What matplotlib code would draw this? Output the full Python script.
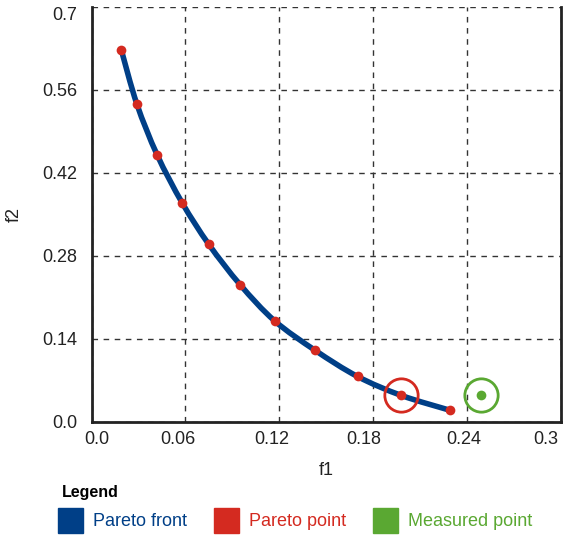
import matplotlib
matplotlib.use("Agg")
import matplotlib.pyplot as plt
import matplotlib.transforms as mtransforms
import numpy as np
from matplotlib.path import Path
from matplotlib.patches import PathPatch, Rectangle

plt.rcParams['font.family'] = ['Liberation Sans', 'DejaVu Sans']

# Data
f1 = [0.019, 0.029, 0.042, 0.058, 0.075, 0.095, 0.117, 0.143, 0.170, 0.198, 0.229]
f2 = [0.628, 0.536, 0.450, 0.369, 0.299, 0.231, 0.170, 0.120, 0.076, 0.044, 0.019]
highlight_index = 9
measured = (0.249, 0.045)
xticks = [0.0, 0.06, 0.12, 0.18, 0.24, 0.3]
xticklabels = ["0.0", "0.06", "0.12", "0.18", "0.24", "0.3"]
yticks = [0.0, 0.14, 0.28, 0.42, 0.56, 0.7]
yticklabels = ["0.0", "0.14", "0.28", "0.42", "0.56", "0.7"]
legend_labels = ["Pareto front", "Pareto point", "Measured point"]

BLUE = "#003f87"
RED = "#d42a20"
GREEN = "#5aa832"
TXT = "#222222"

W, H = 565, 536
fig = plt.figure(figsize=(W / 100, H / 100), dpi=100)
ax = fig.add_axes([91.5 / W, 1 - 421.5 / H, (561 - 91.5) / W, (421.5 - 7) / H])
ax.set_xlim(0, 0.3)
ax.set_ylim(0, 0.7)

# smooth front drawn as Catmull-Rom bezier through the points
pts = np.column_stack([f1, f2])
verts = [tuple(pts[0])]
codes = [Path.MOVETO]
n = len(pts)
for i in range(n - 1):
    p0 = pts[i - 1] if i > 0 else pts[i]
    p1 = pts[i]
    p2 = pts[i + 1]
    p3 = pts[i + 2] if i + 2 < n else pts[i + 1]
    c1 = p1 + (p2 - p0) / 6
    c2 = p2 - (p3 - p1) / 6
    verts += [tuple(c1), tuple(c2), tuple(p2)]
    codes += [Path.CURVE4] * 3
ax.add_patch(PathPatch(Path(verts, codes), facecolor='none', edgecolor=BLUE,
                       lw=4.0, capstyle='round', zorder=3))

ax.plot(f1, f2, 'o', color=RED, ms=7, mec='none', zorder=4)
ax.plot([f1[highlight_index]], [f2[highlight_index]], 'o', mfc='none', mec=RED,
        mew=2, ms=24, zorder=5)
ax.plot([measured[0]], [measured[1]], 'o', color=GREEN, ms=7, mec='none', zorder=4)
ax.plot([measured[0]], [measured[1]], 'o', mfc='none', mec=GREEN, mew=2, ms=24, zorder=5)

ax.set_xticks(xticks)
ax.set_xticklabels(xticklabels)
ax.set_yticks(yticks)
ax.set_yticklabels(yticklabels)
ax.tick_params(length=0, labelsize=13, colors=TXT)
ax.tick_params(axis='x', pad=7)
ax.tick_params(axis='y', pad=10)
ax.grid(True, ls=(0, (4, 4)), color='#333333', lw=1)
ax.set_axisbelow(True)
for s in ['left', 'bottom', 'right']:
    ax.spines[s].set_linewidth(2)
    ax.spines[s].set_color(TXT)
ax.spines['top'].set_visible(False)

# label nudges (pixels) as in the reference
x_shift = [5, -8, -8, -9, -3, -15]
for lab, dx in zip(ax.get_xticklabels(), x_shift):
    lab.set_transform(lab.get_transform() + mtransforms.ScaledTranslation(dx / 100, 0, fig.dpi_scale_trans))
y_shift = [0, 0, 0, 0, 0, -7]
for lab, dy in zip(ax.get_yticklabels(), y_shift):
    lab.set_transform(lab.get_transform() + mtransforms.ScaledTranslation(0, dy / 100, fig.dpi_scale_trans))

ax.set_xlabel("f1", fontsize=13, labelpad=10, color=TXT)
ax.set_ylabel("f2", fontsize=13, labelpad=14, color=TXT)

# legend
fig.text(62 / W, 1 - 492 / H, "Legend", fontsize=11.5, fontweight='bold', va='center', ha='left')
colors = [BLUE, RED, GREEN]
xs = [58, 214, 373]
for lab, c, x0 in zip(legend_labels, colors, xs):
    fig.patches.append(Rectangle((x0 / W, 1 - 533 / H), 25 / W, 25 / H,
                                 transform=fig.transFigure, color=c, figure=fig))
    fig.text((x0 + 35) / W, 1 - 521 / H, lab, fontsize=13, color=c, va='center', ha='left')

fig.savefig("out.png", dpi=100)
